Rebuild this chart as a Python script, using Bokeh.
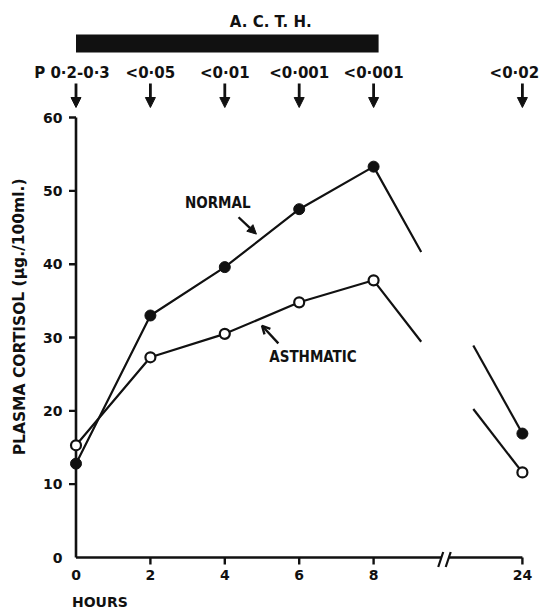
from bokeh.plotting import figure
from bokeh.models import ColumnDataSource, Arrow, NormalHead, OpenHead
from bokeh.core.properties import value
from bokeh.embed import file_html
from bokeh.resources import INLINE

# ---------------- data ----------------
hours = [0, 2, 4, 6, 8, 24]
normal = [12.8, 33.0, 39.6, 47.5, 53.3, 16.9]
asthmatic = [15.3, 27.3, 30.5, 34.8, 37.8, 11.6]
p_labels = ["P 0\u00b72-0\u00b73", "<0\u00b705", "<0\u00b701", "<0\u00b7001", "<0\u00b7001", "<0\u00b702"]
y_ticks = [0, 10, 20, 30, 40, 50, 60]
x_ticks = [0, 2, 4, 6, 8, 24]
acth_hours = [0, 8]

# ---------------- geometry helpers ----------------
W, H = 543, 608
X0PX, XS = 75.5, 37.2      # pixel of x=0, pixels per position unit
Y0PX, YS = 557.0, 7.333    # pixel (from top) of y=0, pixels per y unit


def pos(h):
    # broken axis: hours after 8 are compressed
    return h if h <= 8 else 8 + (h - 8) / 4.0


def dx(px):
    return px / XS


def dy(px):
    return px / YS


def top_px(px):
    # y value of a pixel row measured from the top of the picture
    return (Y0PX - px) / YS


BREAK_POS = pos(15.7)

p = figure(width=W, height=H, output_backend="svg", toolbar_location=None,
           x_range=(-X0PX / XS, (W - X0PX) / XS),
           y_range=(-(H - Y0PX) / YS, Y0PX / YS),
           min_border=0, outline_line_color=None)
p.axis.visible = False
p.grid.visible = False
p.background_fill_color = "white"
p.border_fill_color = "white"

BOLD = value("DejaVu Sans")
NARROW = value("DejaVu Sans Condensed, DejaVu Sans")
INK = "#111111"

xp = [pos(h) for h in hours]
xt = [pos(h) for h in x_ticks]

# ---------------- axes ----------------
AXW = 2.6
p.segment(x0=[0], y0=[0], x1=[0], y1=[60], line_width=AXW, line_color=INK)
p.segment(x0=[0, BREAK_POS + dx(3.5)], y0=[0, 0],
          x1=[BREAK_POS - dx(4.0), pos(24)], y1=[0, 0], line_width=AXW, line_color=INK)
# break marks
p.segment(x0=[BREAK_POS - dx(7), BREAK_POS + dx(0.5)], y0=[-dy(9.5)] * 2,
          x1=[BREAK_POS - dx(2), BREAK_POS + dx(5.5)], y1=[dy(5.5)] * 2,
          line_width=2.2, line_color=INK)
# ticks
p.segment(x0=[-dx(7)] * 6, y0=y_ticks[1:], x1=[0] * 6, y1=y_ticks[1:],
          line_width=2.4, line_color=INK)
p.segment(x0=xt[1:], y0=[0] * 5, x1=xt[1:], y1=[-dy(7)] * 5,
          line_width=2.4, line_color=INK)

# tick labels
p.text(x=[-dx(13.5)] * 7, y=y_ticks, text=[str(v) for v in y_ticks],
       text_font=BOLD, text_font_style="bold", text_font_size="14px",
       text_align="right", text_baseline="middle", text_color=INK)
p.text(x=xt, y=[-dy(17)] * 6, text=[str(v) for v in x_ticks],
       text_font=BOLD, text_font_style="bold", text_font_size="14px",
       text_align="center", text_baseline="middle", text_color=INK)

# axis titles
p.text(x=[-dx(4)], y=[-dy(44)], text=["HOURS"],
       text_font=BOLD, text_font_style="bold", text_font_size="14px",
       text_align="left", text_baseline="middle", text_color=INK)
p.text(x=[-dx(56.5)], y=[top_px(311)], text=["PLASMA  CORTISOL  (\u00b5g./100ml.)"],
       text_font=BOLD, text_font_style="bold", text_font_size="15.5px",
       text_align="center", text_baseline="middle", angle=1.5708, text_color=INK)

# ---------------- A.C.T.H. bar ----------------
p.quad(left=[pos(acth_hours[0])], right=[pos(acth_hours[1]) + dx(5)],
       bottom=[top_px(52)], top=[top_px(34)],
       fill_color=INK, line_color=None)
p.text(x=[(pos(acth_hours[0]) + pos(acth_hours[1])) / 2 + dx(46)], y=[top_px(21)],
       text=["A. C. T. H."], text_font=BOLD, text_font_style="bold",
       text_font_size="15px", text_align="center", text_baseline="middle", text_color=INK)

# ---------------- P values with arrows ----------------
p.text(x=xp, y=[top_px(72)] * 6, text=p_labels,
       text_font=BOLD, text_font_style="bold", text_font_size="15px",
       text_align="center", text_baseline="middle", text_color=INK,
       x_offset=[-4, 0, 0, 0, 0, -8])
arr_src = ColumnDataSource(dict(x=xp, ys=[top_px(83)] * 6, ye=[top_px(107)] * 6))
p.add_layout(Arrow(end=NormalHead(size=10, fill_color=INK, line_color=INK, line_width=1),
                   x_start="x", y_start="ys", x_end="x", y_end="ye",
                   source=arr_src, line_width=2.8, line_color=INK))

# ---------------- data lines ----------------
GAP_A, GAP_B = 0.32, 0.67


def split_line(xs, ys):
    x8, y8, x24, y24 = xs[4], ys[4], xs[5], ys[5]
    xa, ya = x8 + (x24 - x8) * GAP_A, y8 + (y24 - y8) * GAP_A
    xb, yb = x8 + (x24 - x8) * GAP_B, y8 + (y24 - y8) * GAP_B
    return [xs[:5] + [xa], [xb, x24]], [ys[:5] + [ya], [yb, y24]]


for series in (normal, asthmatic):
    mx, my = split_line(xp, series)
    p.multi_line(xs=mx, ys=my, line_width=2.2, line_color=INK)

p.scatter(x=xp, y=normal, size=11, fill_color=INK, line_color=INK, line_width=1)
p.scatter(x=xp, y=asthmatic, size=10, fill_color="white", line_color=INK, line_width=2.2)

# ---------------- series labels ----------------
p.text(x=[pos(3.81)], y=[48.3], text=["NORMAL"], text_font=NARROW, text_font_style="bold",
       text_font_size="15px", text_align="center", text_baseline="middle", text_color=INK)
p.text(x=[pos(6.37)], y=[27.3], text=["ASTHMATIC"], text_font=NARROW, text_font_style="bold",
       text_font_size="15px", text_align="center", text_baseline="middle", text_color=INK)
p.add_layout(Arrow(end=NormalHead(size=9, fill_color=INK, line_color=INK, line_width=1),
                   x_start=4.37, y_start=46.4, x_end=4.85, y_end=44.1,
                   line_width=2.4, line_color=INK))
p.add_layout(Arrow(end=OpenHead(size=8, line_color=INK, line_width=2.4),
                   x_start=5.44, y_start=29.2, x_end=5.0, y_end=31.6,
                   line_width=2.4, line_color=INK))

open("out.html", "w").write(file_html(p, INLINE))
